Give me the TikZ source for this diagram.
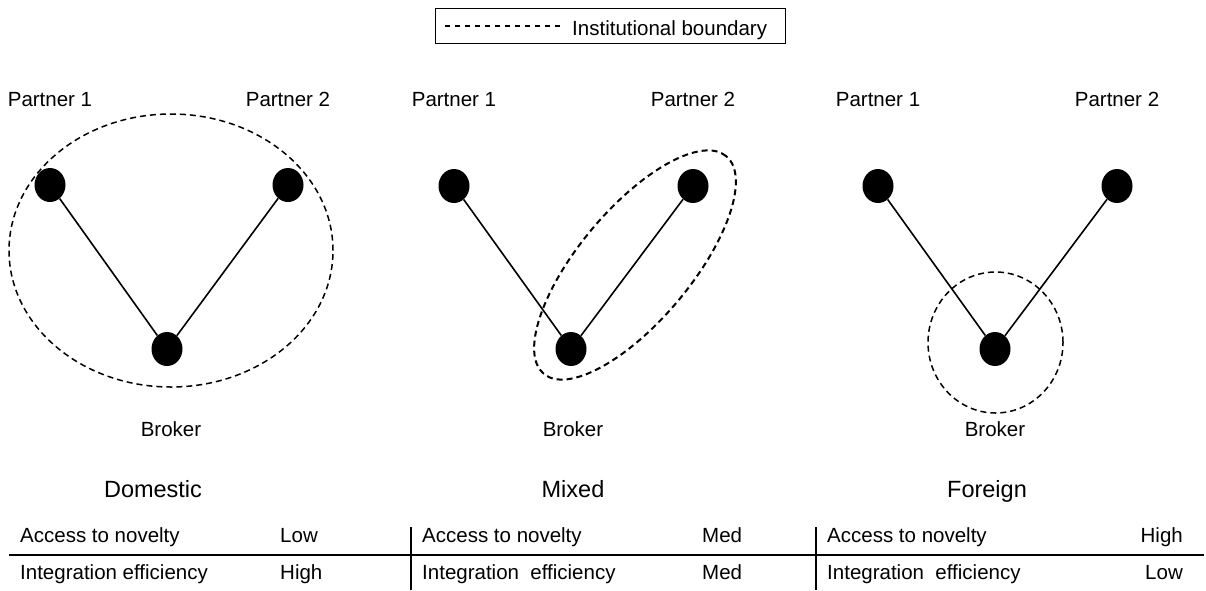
\documentclass[tikz,border=0pt]{standalone}
\usepackage{fontspec}
\setmainfont{Liberation Sans}
\usetikzlibrary{shapes.geometric}
\begin{document}
\begin{tikzpicture}[x=1pt,y=-1pt,
  dot/.style={ellipse,fill=black,draw=none,minimum width=31pt,minimum height=34pt,inner sep=0pt},
  lbl/.style={inner sep=0pt,anchor=base,font=\fontsize{20.5}{24}\selectfont},
  ttl/.style={inner sep=0pt,anchor=base,font=\fontsize{23.5}{28}\selectfont},
  cell/.style={inner sep=0pt,anchor=base west,font=\fontsize{20.5}{24}\selectfont},
  cellr/.style={inner sep=0pt,anchor=base east,font=\fontsize{20.5}{24}\selectfont},
  tie/.style={line width=1.6pt},
  bound/.style={line width=1.5pt,dash pattern=on 6pt off 4pt},
  rule/.style={line width=1.6pt}]
\useasboundingbox (0,0) rectangle (1206,590);
% legend
\draw[line width=1pt] (435,8) rectangle (785,43);
\coordinate (lga) at (445,26);
\coordinate (lgb) at (563,26);
\draw[line width=1.2pt,dash pattern=on 5pt off 5pt] (lga) -- (lgb);
\node[lbl,anchor=base west] (legend) at (572,35) {Institutional boundary};
% Domestic
\node[dot] (dp1) at (50,185) {};
\node[dot] (dp2) at (288,185) {};
\node[dot] (db) at (167,349) {};
\draw[tie] (dp1) -- (db);
\draw[tie] (dp2) -- (db);
\draw[bound] (171,250.5) ellipse [x radius=162pt, y radius=136.5pt];
\node[lbl] (dl1) at (50,106.5) {Partner 1};
\node[lbl] (dl2) at (288,106.5) {Partner 2};
\node[lbl] (dlb) at (171,436) {Broker};
\node[ttl] (dt) at (153,497.5) {Domestic};
% Mixed
\node[dot] (mp1) at (454,186) {};
\node[dot] (mp2) at (693,186) {};
\node[dot] (mb) at (571,349) {};
\draw[tie] (mp1) -- (mb);
\draw[tie] (mp2) -- (mb);
\draw[bound,line width=2pt,rotate around={50:(635,265)}] (635,265) ellipse [x radius=142pt, y radius=56pt];
\node[lbl] (ml1) at (454,106.5) {Partner 1};
\node[lbl] (ml2) at (693,106.5) {Partner 2};
\node[lbl] (mlb) at (573,436) {Broker};
\node[ttl] (mt) at (573,497.5) {Mixed};
% Foreign
\node[dot] (fp1) at (878,186) {};
\node[dot] (fp2) at (1117,186) {};
\node[dot] (fb) at (995,349) {};
\draw[tie] (fp1) -- (fb);
\draw[tie] (fp2) -- (fb);
\draw[bound] (995.5,342.5) ellipse [x radius=67.5pt, y radius=70.5pt];
\node[lbl] (fl1) at (878,106.5) {Partner 1};
\node[lbl] (fl2) at (1117,106.5) {Partner 2};
\node[lbl] (flb) at (995,436) {Broker};
\node[ttl] (ft) at (987,497.5) {Foreign};
% table
\coordinate (ha) at (9,555);
\coordinate (hb) at (1204,555);
\draw[rule] (ha) -- (hb);
\coordinate (v1a) at (411,527);
\coordinate (v1b) at (411,590);
\coordinate (v2a) at (816,527);
\coordinate (v2b) at (816,590);
\draw[rule] (v1a) -- (v1b);
\draw[rule] (v2a) -- (v2b);
\node[cell] (d1) at (20,542) {Access to novelty};
\node[cell] (d1v) at (280,542) {Low};
\node[cell] (d2) at (20,579.5) {Integration efficiency};
\node[cell] (d2v) at (280,579.5) {High};
\node[cell] (m1) at (422,542) {Access to novelty};
\node[cell] (m1v) at (702,542) {Med};
\node[cell] (m2) at (422,579.5) {Integration\ \ efficiency};
\node[cell] (m2v) at (702,579.5) {Med};
\node[cell] (f1) at (827,542) {Access to novelty};
\node[cellr] (f1v) at (1183,542) {High};
\node[cell] (f2) at (827,579.5) {Integration\ \ efficiency};
\node[cellr] (f2v) at (1183,579.5) {Low};
\end{tikzpicture}
\end{document}
